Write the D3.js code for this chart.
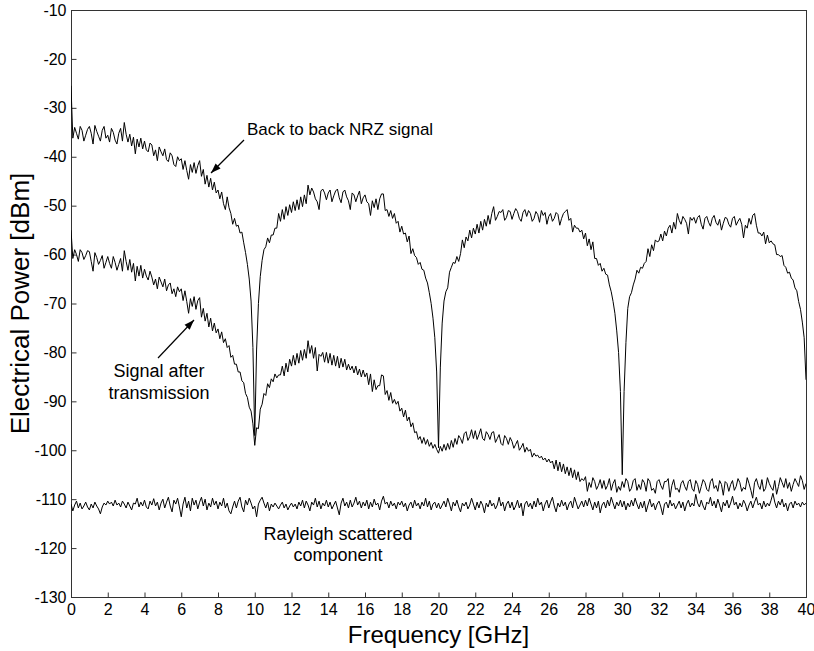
<!DOCTYPE html>
<html>
<head>
<meta charset="utf-8">
<script src="https://cdn.jsdelivr.net/npm/d3@7"></script>
<style>
  body { margin: 0; background: #fff; }
  svg text { font-family: Arial, "Liberation Sans", Helvetica, sans-serif; fill: #000; }
</style>
</head>
<body>
<script>
// spectrum traces, sampled every 0.1 GHz from 0 to 40 GHz (values in dBm)
var freqStep = 0.1;

// back to back NRZ signal
var backToBack = [
  -25.5, -36.2, -34.0, -35.2, -36.4, -33.8, -34.6, -36.8, -35.6, -34.4,
  -33.8, -35.2, -37.4, -33.6, -34.8, -35.8, -36.8, -34.6, -33.8, -36.2,
  -35.6, -37.0, -34.2, -35.0, -36.6, -37.4, -35.2, -34.2, -36.8, -33.0,
  -35.4, -37.0, -35.4, -37.8, -36.0, -39.4, -36.4, -38.0, -36.2, -38.4,
  -36.8, -38.6, -39.0, -37.2, -37.6, -39.8, -38.6, -40.8, -38.0, -39.0,
  -39.8, -38.4, -40.6, -41.0, -39.2, -39.8, -41.6, -42.0, -40.0, -40.8,
  -40.4, -42.6, -40.8, -42.8, -44.6, -41.6, -43.2, -41.2, -43.4, -41.8,
  -40.8, -44.0, -42.6, -45.6, -43.8, -46.2, -44.4, -46.8, -45.2, -47.4,
  -46.8, -48.6, -47.2, -49.6, -50.8, -48.2, -50.4, -51.6, -53.8, -52.6,
  -54.2, -54.0, -55.6, -55.4, -57.6, -59.6, -62.0, -65.0, -69.5, -79.0,
  -97.0, -79.5, -70.0, -64.5, -61.2, -59.0, -58.4, -56.6, -57.6, -56.0,
  -56.0, -54.6, -54.6, -51.6, -53.2, -50.8, -52.8, -50.2, -52.0, -49.8,
  -51.4, -49.2, -51.0, -48.8, -50.8, -48.2, -50.2, -47.8, -49.6, -45.8,
  -47.8, -46.4, -47.2, -48.6, -49.2, -50.8, -47.0, -46.6, -47.4, -48.8,
  -47.4, -46.8, -49.2, -48.0, -47.0, -46.6, -48.4, -49.4, -47.2, -46.8,
  -48.2, -49.0, -50.8, -47.4, -47.8, -49.2, -48.0, -47.0, -49.6, -48.4,
  -47.8, -49.2, -49.6, -52.0, -49.0, -50.4, -48.6, -50.8, -48.6, -47.6,
  -47.6, -51.0, -50.8, -52.2, -51.0, -52.6, -51.6, -53.6, -53.2, -55.4,
  -54.2, -55.8, -55.6, -57.4, -56.2, -59.8, -58.8, -60.2, -60.6, -62.0,
  -61.6, -63.0, -63.2, -64.8, -65.8, -67.8, -70.0, -73.0, -77.0, -84.0,
  -99.5, -83.0, -74.0, -69.5, -67.6, -66.8, -63.6, -62.6, -61.6, -61.8,
  -60.4, -61.4, -59.8, -57.0, -58.6, -56.4, -57.2, -55.0, -56.6, -54.6,
  -55.8, -53.8, -55.6, -53.2, -55.0, -52.8, -54.2, -52.0, -53.8, -51.6,
  -50.2, -53.0, -52.2, -51.2, -51.4, -50.8, -53.0, -52.4, -51.0, -51.2,
  -52.8, -51.6, -50.6, -51.2, -52.6, -53.2, -51.4, -50.8, -52.2, -51.0,
  -51.6, -53.2, -52.6, -51.2, -51.8, -53.4, -51.0, -52.0, -51.4, -53.8,
  -52.2, -51.6, -53.2, -52.6, -51.4, -51.8, -54.0, -52.6, -51.6, -51.2,
  -50.8, -53.0, -52.6, -55.4, -54.0, -54.6, -54.6, -55.4, -55.0, -56.8,
  -55.6, -58.2, -56.8, -59.0, -57.4, -60.8, -60.8, -62.2, -61.8, -63.4,
  -62.8, -64.0, -64.2, -66.2, -67.6, -69.6, -72.0, -75.6, -80.0, -88.0,
  -105.0, -88.0, -78.0, -71.0, -68.6, -67.8, -66.2, -65.0, -63.2, -63.8,
  -62.6, -62.8, -61.8, -61.4, -58.8, -60.4, -58.0, -59.2, -57.0, -57.4,
  -57.2, -55.8, -57.2, -55.2, -56.2, -54.6, -54.0, -55.6, -53.4, -54.8,
  -51.6, -53.0, -53.8, -52.2, -52.8, -53.6, -55.8, -52.4, -53.0, -52.4,
  -53.6, -52.4, -52.0, -53.8, -54.8, -52.6, -52.2, -53.4, -54.2, -52.6,
  -52.0, -53.4, -54.0, -52.8, -55.0, -53.6, -52.4, -52.6, -53.8, -54.4,
  -52.6, -52.2, -54.0, -53.2, -52.6, -53.8, -56.6, -54.0, -54.6, -52.6,
  -53.8, -52.0, -51.6, -54.0, -55.6, -55.6, -56.2, -55.4, -57.8, -56.0,
  -57.6, -57.2, -57.8, -58.0, -60.0, -60.0, -60.4, -60.2, -62.2, -62.6,
  -63.8, -63.6, -64.8, -65.2, -66.8, -67.4, -69.6, -71.2, -73.8, -77.0,
  -85.6
];

// signal after transmission
var afterTransmission = [
  -55.0, -60.8, -59.0, -60.0, -61.4, -59.0, -59.6, -61.0, -60.2, -59.2,
  -59.4, -61.4, -63.4, -59.6, -60.6, -62.0, -61.2, -60.2, -62.8, -61.6,
  -60.4, -61.8, -62.8, -60.4, -61.6, -63.2, -62.0, -60.8, -63.4, -59.2,
  -61.4, -63.2, -61.0, -63.6, -61.8, -65.4, -62.4, -64.4, -62.2, -64.8,
  -63.0, -64.4, -65.2, -63.4, -64.6, -66.2, -65.0, -67.0, -64.6, -65.6,
  -66.6, -65.0, -67.4, -66.2, -65.8, -68.0, -67.0, -68.6, -66.6, -67.6,
  -67.0, -69.4, -67.4, -69.6, -72.0, -69.0, -70.6, -68.6, -71.2, -69.4,
  -68.8, -72.8, -71.0, -73.6, -72.0, -74.8, -73.0, -75.6, -74.0, -76.0,
  -75.2, -77.2, -75.8, -78.0, -77.2, -79.0, -78.6, -81.0, -80.6, -82.4,
  -82.4, -84.0, -84.0, -85.8, -86.2, -88.4, -89.2, -91.2, -92.0, -94.6,
  -99.0, -95.4, -95.6, -91.6, -90.6, -88.4, -88.8, -86.4, -87.2, -85.4,
  -86.0, -84.4, -85.2, -84.6, -84.6, -82.8, -84.8, -82.2, -84.0, -81.4,
  -82.8, -80.6, -82.6, -80.2, -82.2, -79.6, -81.6, -79.4, -81.2, -77.6,
  -80.2, -78.6, -81.2, -79.0, -83.8, -80.4, -80.8, -80.0, -82.0, -80.0,
  -82.2, -80.2, -82.6, -80.6, -82.8, -80.8, -83.2, -81.2, -83.0, -81.4,
  -83.6, -82.4, -83.6, -82.8, -84.2, -82.8, -84.6, -83.4, -85.0, -83.6,
  -85.0, -84.2, -86.6, -84.4, -88.0, -85.6, -87.6, -86.8, -86.8, -84.6,
  -84.8, -88.6, -87.8, -89.8, -88.2, -90.4, -89.6, -90.6, -90.0, -92.0,
  -91.4, -93.2, -91.8, -94.0, -93.2, -95.2, -94.4, -96.4, -96.2, -97.8,
  -97.2, -98.6, -97.4, -98.8, -97.8, -99.2, -98.4, -99.6, -98.8, -99.8,
  -100.6, -99.2, -100.2, -98.8, -100.0, -98.6, -99.8, -98.0, -99.4, -97.6,
  -98.8, -97.0, -97.6, -98.6, -96.6, -96.2, -98.0, -97.2, -95.8, -97.6,
  -96.0, -97.8, -96.8, -95.6, -97.6, -98.0, -96.2, -96.8, -97.8, -96.4,
  -96.2, -98.4, -97.6, -96.8, -98.6, -99.0, -97.0, -97.6, -98.8, -97.4,
  -98.2, -99.6, -98.8, -98.0, -100.0, -99.4, -98.6, -100.4, -99.4, -100.2,
  -99.8, -101.4, -100.6, -101.2, -101.0, -101.6, -101.2, -102.0, -101.6, -102.4,
  -101.8, -102.6, -102.2, -103.8, -102.0, -104.2, -102.4, -104.4, -102.8, -104.8,
  -103.4, -105.2, -103.6, -105.6, -104.0, -106.0, -104.4, -106.4, -105.8, -106.2,
  -105.4, -108.4, -106.6, -107.6, -105.6, -106.4, -108.0, -107.2, -106.0, -107.8,
  -106.2, -108.0, -107.2, -105.8, -108.2, -106.8, -106.0, -108.6, -107.4, -108.2,
  -106.4, -107.6, -105.8, -106.4, -108.4, -107.8, -106.2, -105.8, -108.2, -107.0,
  -108.0, -106.0, -106.6, -108.4, -105.8, -106.4, -108.2, -107.8, -108.8, -106.4,
  -106.0, -107.2, -108.0, -106.4, -106.4, -105.8, -109.6, -107.2, -106.0, -108.0,
  -107.8, -108.6, -106.8, -106.2, -107.4, -108.2, -106.4, -106.0, -107.8, -108.4,
  -106.2, -107.0, -108.8, -107.4, -106.0, -106.6, -108.0, -108.4, -106.4, -105.8,
  -107.8, -107.2, -108.4, -106.2, -107.0, -109.2, -106.4, -106.8, -108.4, -107.0,
  -106.2, -108.2, -107.4, -105.8, -106.6, -108.4, -107.6, -108.0, -105.6, -106.8,
  -108.2, -109.8, -106.6, -105.8, -107.2, -108.0, -106.0, -108.4, -107.8, -105.6,
  -106.8, -107.6, -108.2, -106.2, -109.0, -107.4, -105.6, -106.6, -107.6, -105.8,
  -107.8, -106.6, -108.4, -107.0, -105.8, -106.6, -107.4, -105.2, -106.2, -108.0,
  -106.8
];

// Rayleigh scattered component
var rayleigh = [
  -111.0, -112.4, -111.2, -110.4, -111.8, -110.8, -112.0, -111.4, -110.6, -111.6,
  -112.2, -111.0, -111.8, -110.6, -111.4, -112.0, -113.0, -111.6, -110.8, -111.2,
  -110.4, -111.0, -110.6, -111.4, -110.2, -111.2, -110.8, -111.6, -110.4, -111.0,
  -111.8, -110.6, -111.4, -112.2, -110.8, -111.0, -109.8, -111.6, -110.6, -111.4,
  -110.2, -111.6, -112.0, -110.4, -111.2, -109.9, -111.4, -110.6, -112.2, -110.8,
  -110.0, -111.8, -110.6, -109.6, -111.4, -112.6, -110.2, -111.0, -109.8, -111.6,
  -113.6, -111.0, -109.6, -111.8, -110.4, -112.4, -109.8, -111.2, -110.2, -112.0,
  -110.6, -109.6, -111.4, -110.0, -112.2, -110.8, -111.6, -109.8, -111.2, -110.4,
  -112.0, -110.6, -111.4, -109.8, -111.8, -110.8, -112.4, -113.0, -111.6, -110.4,
  -111.8, -110.4, -109.6, -111.6, -112.6, -110.2, -111.2, -109.8, -110.8, -112.0,
  -111.4, -113.6, -111.0, -110.2, -109.6, -110.8, -111.8, -110.6, -112.4, -111.0,
  -111.6, -110.8, -111.4, -112.0, -111.2, -110.6, -111.8, -111.0, -112.2, -111.4,
  -110.8, -111.6, -111.0, -112.0, -110.6, -111.4, -110.2, -111.8, -110.4, -111.2,
  -112.4, -110.6, -111.2, -109.8, -111.6, -110.4, -112.0, -110.8, -111.4, -110.2,
  -111.6, -110.6, -112.0, -111.2, -110.4, -111.8, -113.2, -110.8, -109.8, -111.4,
  -110.6, -111.8, -110.2, -111.6, -110.8, -109.6, -111.2, -110.4, -111.8, -110.6,
  -111.4, -110.2, -112.0, -110.6, -111.6, -110.0, -111.2, -110.8, -112.2, -110.4,
  -109.4, -111.0, -110.6, -111.8, -110.4, -111.4, -110.8, -112.0, -110.6, -111.2,
  -110.4, -111.6, -110.8, -112.4, -111.2, -110.6, -111.8, -110.2, -111.4, -110.8,
  -112.0, -110.6, -111.4, -109.8, -111.6, -110.4, -112.2, -111.0, -110.6, -111.8,
  -110.8, -112.0, -111.2, -110.4, -111.6, -109.8, -111.0, -112.4, -110.6, -111.4,
  -110.2, -111.6, -112.6, -110.8, -111.4, -110.6, -112.0, -111.2, -109.8, -111.0,
  -112.2, -110.6, -111.8, -110.4, -111.2, -112.8, -110.8, -111.6, -110.2, -111.4,
  -110.8, -112.0, -111.2, -109.6, -111.4, -110.6, -112.4, -111.0, -110.4, -111.8,
  -110.6, -112.2, -111.4, -110.2, -111.8, -110.8, -113.4, -111.0, -110.4, -111.6,
  -110.8, -112.0, -110.4, -111.6, -109.8, -111.2, -110.6, -112.4, -111.0, -110.2,
  -111.8, -110.6, -109.6, -111.4, -112.6, -110.8, -111.6, -110.2, -111.4, -110.6,
  -112.2, -111.0, -110.4, -111.8, -109.6, -110.8, -112.0, -111.2, -110.4, -111.6,
  -110.2, -111.4, -109.8, -111.0, -112.2, -110.6, -111.8, -110.4, -112.8, -111.2,
  -110.6, -111.8, -110.2, -111.4, -109.6, -110.8, -112.0, -110.6, -111.4, -110.2,
  -111.6, -110.4, -112.2, -110.8, -111.6, -110.2, -111.4, -109.8, -111.0, -112.0,
  -110.6, -111.8, -110.4, -112.6, -111.2, -110.0, -111.6, -110.8, -112.2, -111.0,
  -110.4, -111.6, -113.2, -111.0, -110.6, -111.8, -110.2, -111.4, -110.8, -112.0,
  -111.2, -110.4, -111.8, -110.6, -112.4, -111.0, -110.2, -111.6, -110.8, -111.4,
  -109.0, -110.8, -111.6, -110.2, -111.4, -112.2, -110.6, -111.0, -109.6, -111.4,
  -110.4, -111.8, -110.0, -111.2, -112.6, -110.6, -111.4, -110.2, -111.8, -110.8,
  -109.4, -111.2, -110.6, -112.0, -110.8, -111.6, -110.2, -111.0, -112.4, -111.2,
  -110.4, -111.8, -110.6, -109.6, -111.2, -110.8, -112.0, -110.4, -111.6, -110.8,
  -111.4, -110.2, -108.8, -110.6, -111.8, -110.4, -111.2, -110.0, -111.6, -110.8,
  -112.4, -111.0, -110.6, -111.8, -110.4, -111.2, -110.8, -111.6, -110.6, -111.2,
  -110.8
];

var xTicks = d3.range(0, 41, 2);
var yTicks = d3.range(-130, -9, 10);

var W = 814, H = 651;
var margin = { top: 10, right: 8, bottom: 54, left: 71 };

var svg = d3.select("body").append("svg")
    .attr("width", W).attr("height", H);

var x = d3.scaleLinear().domain([0, 40]).range([margin.left, W - margin.right]);
var y = d3.scaleLinear().domain([-130, -10]).range([H - margin.bottom, margin.top]);

svg.append("defs").append("clipPath").attr("id", "plot-clip")
  .append("rect")
    .attr("x", x(0)).attr("y", y(-10))
    .attr("width", x(40) - x(0)).attr("height", y(-130) - y(-10));

svg.select("defs").append("marker")
    .attr("id", "arrow")
    .attr("viewBox", "0 -5 10 10")
    .attr("refX", 10).attr("refY", 0)
    .attr("markerWidth", 10).attr("markerHeight", 10)
    .attr("markerUnits", "userSpaceOnUse")
    .attr("orient", "auto")
  .append("path")
    .attr("d", "M0,-3.5L10,0L0,3.5Z")
    .attr("fill", "#000");

// frame
svg.append("rect")
    .attr("x", x(0) + 0.5).attr("y", y(-10) + 0.5)
    .attr("width", x(40) - x(0)).attr("height", y(-130) - y(-10))
    .attr("fill", "none").attr("stroke", "#333").attr("stroke-width", 1);

// axes, ticks pointing inward; plain hyphen for the minus sign
var fmt = function(d) { return String(d); };
var xAxis = d3.axisBottom(x).tickValues(xTicks).tickSize(-5).tickPadding(6).tickFormat(fmt);
var yAxis = d3.axisLeft(y).tickValues(yTicks).tickSize(-5).tickPadding(5).tickFormat(fmt);

var gx = svg.append("g")
    .attr("transform", "translate(0," + (y(-130) + 0.5) + ")")
    .call(xAxis);
var gy = svg.append("g")
    .attr("transform", "translate(" + (x(0) + 0.5) + ",0)")
    .call(yAxis);

[gx, gy].forEach(function(g) {
  g.select(".domain").remove();
  g.selectAll(".tick line").attr("stroke", "#333");
  g.selectAll(".tick text")
    .attr("font-family", "Arial, 'Liberation Sans', sans-serif")
    .attr("font-size", 16).attr("fill", "#000");
});

// traces
var line = d3.line()
    .x(function(d, i) { return x(i * freqStep); })
    .y(function(d) { return y(d); });

var plot = svg.append("g").attr("clip-path", "url(#plot-clip)");

[rayleigh, afterTransmission, backToBack].forEach(function(s) {
  plot.append("path")
      .datum(s)
      .attr("d", line)
      .attr("fill", "none")
      .attr("stroke", "#000")
      .attr("stroke-width", 1)
      .attr("stroke-linejoin", "round");
});

// axis titles
svg.append("text")
    .attr("x", (x(0) + x(40)) / 2).attr("y", 643)
    .attr("text-anchor", "middle")
    .attr("font-size", 24)
    .text("Frequency [GHz]");

svg.append("text")
    .attr("transform", "translate(29," + ((y(-10) + y(-130)) / 2) + ")rotate(-90)")
    .attr("text-anchor", "middle")
    .attr("font-size", 26)
    .text("Electrical Power [dBm]");

// annotations
svg.append("text")
    .attr("x", 247).attr("y", 134.5)
    .attr("font-size", 17)
    .text("Back to back NRZ signal");
svg.append("line")
    .attr("x1", 244).attr("y1", 140).attr("x2", 211).attr("y2", 173)
    .attr("stroke", "#000").attr("stroke-width", 1.2)
    .attr("marker-end", "url(#arrow)");

var sig = svg.append("text")
    .attr("text-anchor", "middle")
    .attr("font-size", 18);
sig.append("tspan").attr("x", 159).attr("y", 377).text("Signal after");
sig.append("tspan").attr("x", 159).attr("y", 398.5).text("transmission");
svg.append("line")
    .attr("x1", 158).attr("y1", 358).attr("x2", 194).attr("y2", 320)
    .attr("stroke", "#000").attr("stroke-width", 1.2)
    .attr("marker-end", "url(#arrow)");

var ray = svg.append("text")
    .attr("text-anchor", "middle")
    .attr("font-size", 18);
ray.append("tspan").attr("x", 338).attr("y", 540).text("Rayleigh scattered");
ray.append("tspan").attr("x", 338).attr("y", 561).text("component");
</script>
</body>
</html>
